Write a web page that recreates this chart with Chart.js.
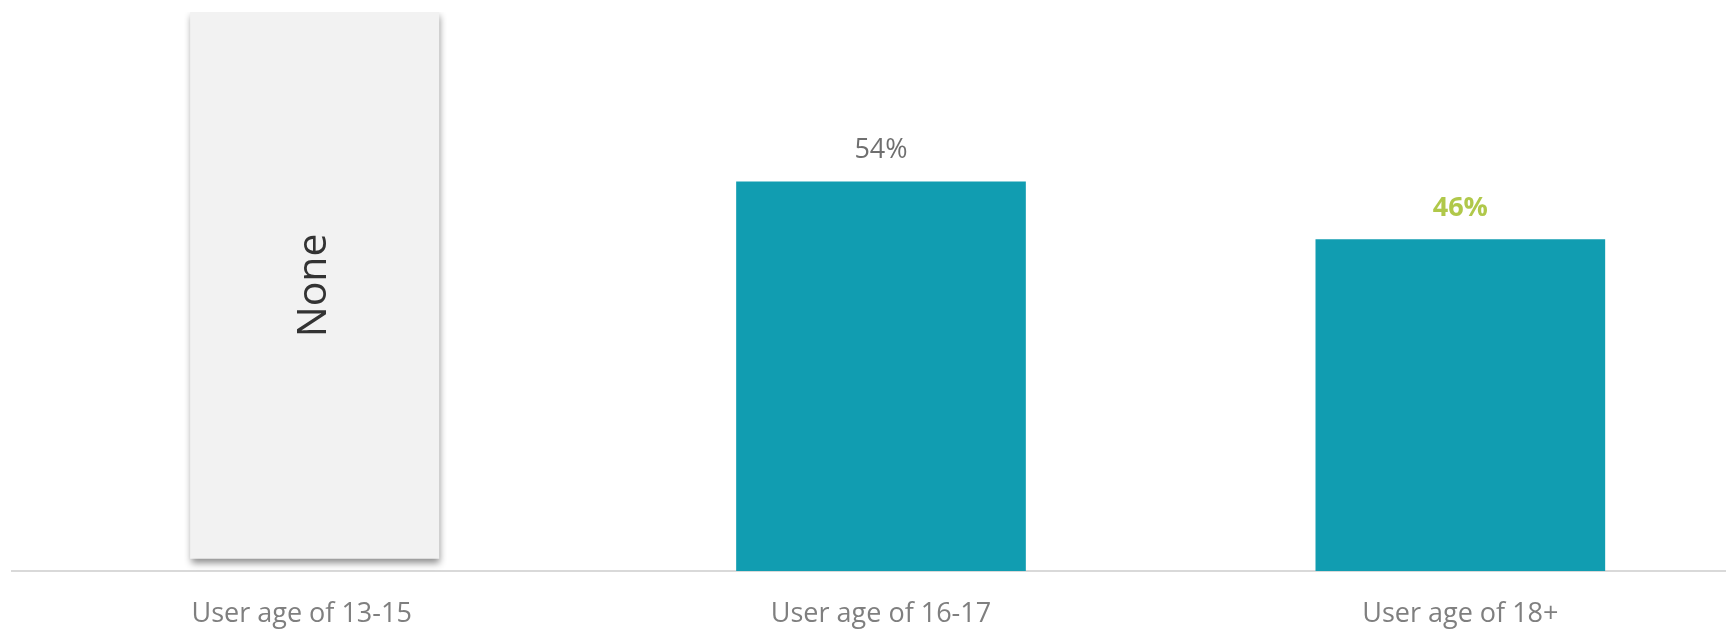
<!DOCTYPE html>
<html>
<head>
<meta charset="utf-8">
<script src="https://cdn.jsdelivr.net/npm/chart.js@4.4.0/dist/chart.umd.min.js"></script>
<style>
  html, body { margin: 0; padding: 0; background: #ffffff; overflow: hidden; }
  #wrap { width: 1750px; height: 630px; position: relative; }
</style>
</head>
<body>
<div id="wrap"><canvas id="c"></canvas></div>
<script>
const categories = ['User age of 13-15', 'User age of 16-17', 'User age of 18+'];
const shareValues = [null, 54, 46];
const valueLabels = ['', '54%', '46%'];
const placeholderRange = [[1.7, 77.5], null, null];
const placeholderText = 'None';
const yMax = 77.5;
const placeholderShift = 13;

const shadowPlugin = {
  id: 'shadowPlugin',
  beforeDatasetDraw(chart, args) {
    if (args.index === 1) {
      const ctx = chart.ctx;
      ctx.save();
      ctx.translate(placeholderShift, 0);
      ctx.shadowColor = 'rgba(0,0,0,0.45)';
      ctx.shadowBlur = 7;
      ctx.shadowOffsetX = 1;
      ctx.shadowOffsetY = 4;
    }
  },
  afterDatasetDraw(chart, args) {
    if (args.index === 1) chart.ctx.restore();
  }
};

const labelPlugin = {
  id: 'labelPlugin',
  afterDatasetsDraw(chart) {
    const ctx = chart.ctx;
    const meta = chart.getDatasetMeta(0);
    meta.data.forEach((bar, i) => {
      if (shareValues[i] == null) return;
      ctx.save();
      ctx.textAlign = 'center';
      ctx.textBaseline = 'middle';
      if (i === 2) {
        ctx.fillStyle = '#b0c84a';
        ctx.font = 'bold 27px "Open Sans", sans-serif';
      } else {
        ctx.fillStyle = '#6f6f6f';
        ctx.font = '27px "Open Sans", sans-serif';
      }
      ctx.fillText(valueLabels[i], bar.x, bar.y - 31);
      ctx.restore();
    });
    const pmeta = chart.getDatasetMeta(1);
    pmeta.data.forEach((bar, i) => {
      if (placeholderRange[i] == null) return;
      ctx.save();
      const cy = (bar.y + bar.base) / 2;
      ctx.translate(bar.x + placeholderShift, cy);
      ctx.rotate(-Math.PI / 2);
      ctx.textAlign = 'center';
      ctx.textBaseline = 'middle';
      ctx.fillStyle = '#333333';
      ctx.font = '41px "Open Sans", sans-serif';
      ctx.fillText(placeholderText, 0, 0);
      ctx.restore();
    });
  }
};

new Chart(document.getElementById('c'), {
  type: 'bar',
  data: {
    labels: categories,
    datasets: [
      {
        data: shareValues,
        backgroundColor: '#119db1',
        borderWidth: 0,
        barPercentage: 0.5,
        categoryPercentage: 1.0
      },
      {
        data: placeholderRange,
        backgroundColor: '#f2f2f2',
        borderWidth: 0,
        barPercentage: 0.43,
        categoryPercentage: 1.0
      }
    ]
  },
  options: {
    responsive: true,
    maintainAspectRatio: false,
    animation: false,
    layout: { padding: { left: 12, right: 0, top: 12, bottom: 0 } },
    plugins: {
      legend: { display: false },
      tooltip: { enabled: false }
    },
    scales: {
      x: {
        grid: { display: false, drawTicks: false },
        border: { display: true, color: '#d9d9d9', width: 2 },
        ticks: {
          color: '#7f7f7f',
          font: { family: '"Open Sans", sans-serif', size: 27 },
          padding: 27
        },
        afterFit(scale) { scale.height = 59; }
      },
      y: {
        display: false,
        min: 0,
        max: yMax,
        grid: { display: false }
      }
    },
    datasets: { bar: { grouped: false } }
  },
  plugins: [shadowPlugin, labelPlugin]
});
</script>
</body>
</html>
